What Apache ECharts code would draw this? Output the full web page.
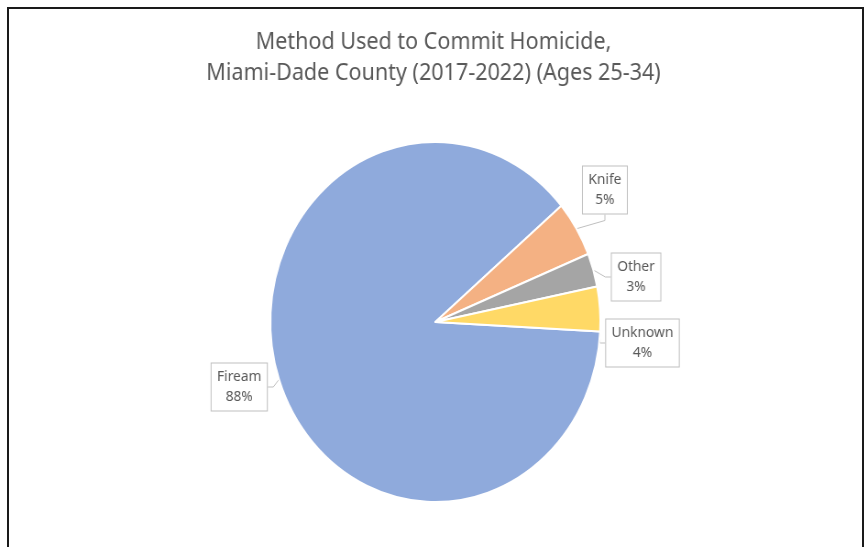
<!DOCTYPE html>
<html>
<head>
<meta charset="utf-8">
<script src="https://cdn.jsdelivr.net/npm/echarts@6/dist/echarts.min.js"></script>
<style>
  html, body { margin: 0; padding: 0; background: #fff; overflow: hidden; }
  #frame {
    position: absolute; left: 7px; top: 7px; width: 857px; height: 560px;
    border: 2px solid #1a1a1a; box-sizing: border-box;
  }
  #chart {
    position: absolute; left: 0; top: 0; width: 946px; height: 547px;
    transform: scaleX(0.9165); transform-origin: 0 0;
  }
</style>
</head>
<body>
<div id="chart"></div>
<div id="frame"></div>
<script>
// Homicide method shares, Miami-Dade County 2017-2022, ages 25-34
const categories = ['Firearm', 'Knife', 'Other', 'Unknown'];
const percentages = [88, 5, 3, 4];
const labelNames = ['Fiream', 'Knife', 'Other', 'Unknown'];
const sliceColors = ['#8FAADC', '#F4B183', '#A5A5A5', '#FFD966'];

// callout box centres (chart coordinates, before the horizontal squeeze)
const calloutCentres = {
  Firearm: [261, 387],
  Knife: [660, 190],
  Other: [694, 277],
  Unknown: [701, 343]
};

const chart = echarts.init(document.getElementById('chart'), null, { renderer: 'canvas' });

const pieData = categories.map((c, i) => ({
  name: c,
  value: percentages[i],
  itemStyle: { color: sliceColors[i] },
  label: { formatter: labelNames[i] + '\n' + percentages[i] + '%' }
}));

chart.setOption({
  animation: false,
  title: {
    text: 'Method Used to Commit Homicide,\nMiami-Dade County (2017-2022) (Ages 25-34)',
    left: 'center',
    top: 22,
    textStyle: {
      fontFamily: 'Noto Sans',
      fontWeight: 'normal',
      fontSize: 23.5,
      lineHeight: 31,
      color: '#595959'
    }
  },
  series: [{
    type: 'pie',
    center: [475, 322],
    radius: 180,
    startAngle: -3,
    clockwise: true,
    data: pieData,
    itemStyle: { borderColor: '#ffffff', borderWidth: 2 },
    label: {
      show: true,
      position: 'outside',
      fontFamily: 'Noto Sans',
      fontSize: 15,
      lineHeight: 20,
      color: '#595959',
      backgroundColor: '#ffffff',
      borderColor: '#BFBFBF',
      borderWidth: 1,
      padding: [4, 6, 3, 6]
    },
    labelLine: {
      show: true,
      length: 8,
      length2: 6,
      lineStyle: { color: '#BFBFBF', width: 1 }
    },
    labelLayout: function (params) {
      const name = categories[params.dataIndex];
      const c = calloutCentres[name];
      return { x: c[0], y: c[1], align: 'center', verticalAlign: 'middle' };
    },
    emphasis: { disabled: true }
  }]
});
</script>
</body>
</html>
